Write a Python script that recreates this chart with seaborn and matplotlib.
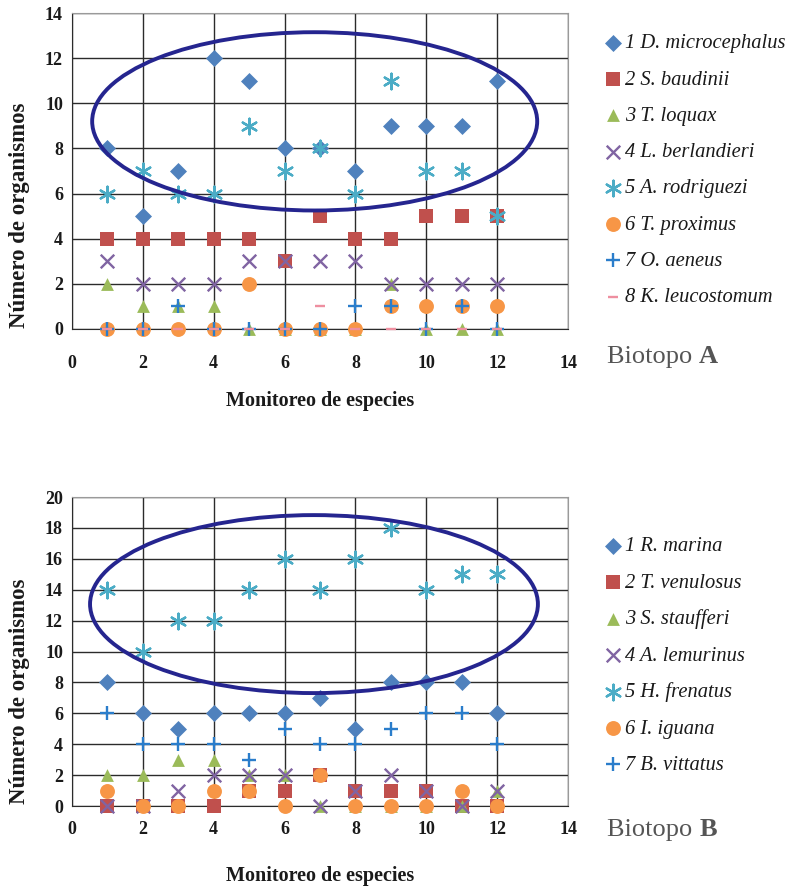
import numpy as np
import pandas as pd
import seaborn as sns
import matplotlib.pyplot as plt
from matplotlib.patches import Ellipse

# ---- data: Biotopo A ----
muestreo = list(range(1, 13))
especies_a = ["1 D. microcephalus", "2 S. baudinii", "3 T. loquax", "4 L. berlandieri",
              "5 A. rodriguezi", "6 T. proximus", "7 O. aeneus", "8 K. leucostomum"]
d_microcephalus = [8, 5, 7, 12, 11, 8, 8, 7, 9, 9, 9, 11]
s_baudinii = [4, 4, 4, 4, 4, 3, 5, 4, 4, 5, 5, 5]
t_loquax = [2, 1, 1, 1, 0, 0, 0, 0, 2, 0, 0, 0]
l_berlandieri = [3, 2, 2, 2, 3, 3, 3, 3, 2, 2, 2, 2]
a_rodriguezi = [6, 7, 6, 6, 9, 7, 8, 6, 11, 7, 7, 5]
t_proximus = [0, 0, 0, 0, 2, 0, 0, 0, 1, 1, 1, 1]
o_aeneus = [0, 0, 1, 0, 0, 0, 0, 1, 1, 0, 1, 0]
k_leucostomum = [0, 0, 0, 0, 0, 0, 1, 0, 0, 0, 0, 0]

# ---- data: Biotopo B ----
especies_b = ["1 R. marina", "2 T. venulosus", "3 S. staufferi", "4 A. lemurinus",
              "5 H. frenatus", "6 I. iguana", "7 B. vittatus"]
r_marina = [8, 6, 5, 6, 6, 6, 7, 5, 8, 8, 8, 6]
t_venulosus = [0, 0, 0, 0, 1, 1, 2, 1, 1, 1, 0, 0]
s_staufferi = [2, 2, 3, 3, 2, 2, 0, 0, 0, 0, 0, 1]
a_lemurinus = [0, 0, 1, 2, 2, 2, 0, 1, 2, 1, 0, 1]
h_frenatus = [14, 10, 12, 12, 14, 16, 14, 16, 18, 14, 15, 15]
i_iguana = [1, 0, 0, 1, 1, 0, 2, 0, 0, 0, 1, 0]
b_vittatus = [6, 4, 4, 4, 3, 5, 4, 4, 5, 6, 6, 4]

series_a = [d_microcephalus, s_baudinii, t_loquax, l_berlandieri,
            a_rodriguezi, t_proximus, o_aeneus, k_leucostomum]
series_b = [r_marina, t_venulosus, s_staufferi, a_lemurinus,
            h_frenatus, i_iguana, b_vittatus]

# styles (Excel-like)
colores = ["#4F81BD", "#C0504D", "#9BBB59", "#8064A2", "#4BACC6", "#F79646", "#2A7DCB", "#EE8FA0"]
marcadores = ["D", "s", "^", "x", (6, 2, 0), "o", "+", "_"]
tamanos = [75, 90, 85, 95, 125, 115, 115, 60]
rellenos = [True, True, True, False, False, True, False, False]

# highlight ellipses (centre x, centre y, width, height)
elipse_a = (6.85, 9.2, 12.56, 7.9)
elipse_b = (6.83, 13.07, 12.64, 11.52)

SERIF = ["Liberation Serif", "DejaVu Serif"]
sns.set_style("white")
plt.rcParams["font.family"] = SERIF

fig = plt.figure(figsize=(7.98, 8.92), dpi=100)
ax_a = fig.add_axes([0.0902, 0.6312, 0.6216, 0.3542])
ax_b = fig.add_axes([0.0902, 0.0964, 0.6216, 0.3464])


def dibujar(ax, especies, series, ymax, elipse, xpad, xlab_y, ylab_y, leg_y, biotopo, bio_y):
    for i, (nombre, valores) in enumerate(zip(especies, series)):
        df = pd.DataFrame({"muestreo": muestreo, "n": valores})
        kw = dict(linewidth=0) if rellenos[i] else dict(linewidth=1.7)
        sns.scatterplot(data=df, x="muestreo", y="n", ax=ax, marker=marcadores[i],
                        color=colores[i], s=tamanos[i], label=nombre, zorder=3 + i,
                        clip_on=False, **kw)
    ax.add_patch(Ellipse((elipse[0], elipse[1]), elipse[2], elipse[3], fill=False,
                         edgecolor="#25258F", linewidth=2.8, zorder=20))
    ax.set_xlim(0, 14)
    ax.set_ylim(0, ymax)
    ax.set_xticks(np.arange(0, 15, 2))
    ax.set_yticks(np.arange(0, ymax + 1, 2))
    ax.grid(True, color="#2b2b2b", linewidth=1.0)
    ax.set_axisbelow(True)
    for s in ["top", "right"]:
        ax.spines[s].set_color("#9a9a9a")
    for s in ["left", "bottom"]:
        ax.spines[s].set_color("#2b2b2b")
    ax.tick_params(axis="both", direction="out", length=5, color="#2b2b2b",
                   labelsize=13, pad=1.5)
    ax.tick_params(axis="x", length=0, pad=xpad)
    for t in ax.get_xticklabels() + ax.get_yticklabels():
        t.set_fontweight("bold")
        t.set_color("#1a1a1a")
    ax.set_xlabel("Monitoreo de especies", fontsize=14.5, fontweight="bold", color="#1a1a1a")
    ax.set_ylabel("Número de organismos", fontsize=16.5, fontweight="bold", color="#1a1a1a")
    ax.xaxis.set_label_coords(0.5, xlab_y)
    ax.yaxis.set_label_coords(-0.085, ylab_y)
    leg = ax.legend(loc="upper left", bbox_to_anchor=(0.757, leg_y),
                    bbox_transform=fig.transFigure, frameon=False, borderpad=0,
                    borderaxespad=0, handletextpad=0.1, handlelength=0.9,
                    labelspacing=0.82,
                    prop=dict(family=SERIF, style="italic", size=14.8))
    for t in leg.get_texts():
        t.set_color("#1a1a1a")
    bt = fig.text(0.761, bio_y, "Biotopo ", fontsize=19, color="#555555", va="center")
    ax.annotate(biotopo, xy=(1, 0), xycoords=bt, va="bottom", ha="left",
                fontsize=19, fontweight="bold", color="#555555")


dibujar(ax_a, especies_a, series_a, 14, elipse_a, 19, -0.196, 0.36, 0.962, "A", 0.600)
dibujar(ax_b, especies_b, series_b, 20, elipse_b, 11, -0.194, 0.372, 0.398, "B", 0.0695)

fig.savefig("out.png", dpi=100)
